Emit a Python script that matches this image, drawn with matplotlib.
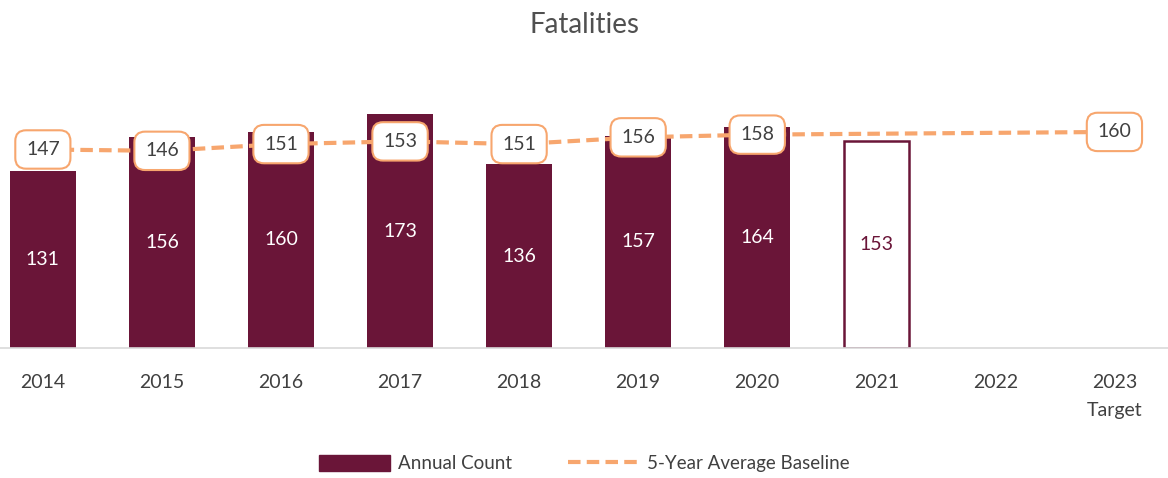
import matplotlib.pyplot as plt
import numpy as np
from matplotlib.patches import Patch
from matplotlib.lines import Line2D

plt.rcParams['font.family'] = ['Lato', 'DejaVu Sans']

# data
years = ['2014', '2015', '2016', '2017', '2018', '2019', '2020', '2021', '2022', '2023\nTarget']
annual = [131, 156, 160, 173, 136, 157, 164, 153]
baseline_idx = [0, 1, 2, 3, 4, 5, 6, 9]
baseline = [147, 146, 151, 153, 151, 156, 158, 160]

maroon = '#6A1538'
orange = '#F7A66E'

fig = plt.figure(figsize=(11.68, 4.78), dpi=100)
ax = fig.add_axes([0.0, 0.272, 1.0, 0.565])

x = np.arange(len(years))
for i, v in enumerate(annual):
    if i < 7:
        ax.bar(x[i], v, width=0.55, color=maroon, zorder=2)
        ax.text(x[i], v / 2, str(v), ha='center', va='center', color='white', fontsize=14, zorder=3)
    else:
        # 2021 only outlined
        ax.bar(x[i], v, width=0.55, facecolor='white', edgecolor=maroon, linewidth=1.8, zorder=2)
        ax.text(x[i], v / 2, str(v), ha='center', va='center', color=maroon, fontsize=14, zorder=3)

ax.plot(x[baseline_idx], baseline, color=orange, linestyle=(0, (3, 1.5)), linewidth=3, zorder=4)
for i, v in zip(baseline_idx, baseline):
    ax.text(x[i], v, str(v), ha='center', va='center', color='#404040', fontsize=14, zorder=5,
            bbox=dict(boxstyle='round,pad=0.55,rounding_size=0.55', facecolor='white', edgecolor=orange, linewidth=1.5))

ax.set_xlim(-0.36, 9.45)
ax.set_ylim(0, 200)
ax.set_xticks(x)
ax.set_xticklabels(years, fontsize=14, color='#404040', linespacing=1.75)
ax.tick_params(axis='x', length=0, pad=19)
ax.set_yticks([])
for s in ['top', 'right', 'left']:
    ax.spines[s].set_visible(False)
ax.spines['bottom'].set_color('#D9D9D9')
ax.spines['bottom'].set_linewidth(1.2)

fig.text(0.5, 0.948, 'Fatalities', ha='center', va='center', fontsize=20, color='#505050')

handles = [Patch(facecolor=maroon, edgecolor=maroon),
           Line2D([0], [0], color=orange, linestyle=(0, (3, 1.5)), linewidth=3)]
fig.legend(handles, ['Annual Count', '5-Year Average Baseline'], loc='center', bbox_to_anchor=(0.5, 0.03),
           ncol=2, frameon=False, fontsize=13.5, labelcolor='#404040', handlelength=3.8, handleheight=0.9,
           columnspacing=3, handletextpad=0.4)

plt.savefig('out.png', dpi=100)
